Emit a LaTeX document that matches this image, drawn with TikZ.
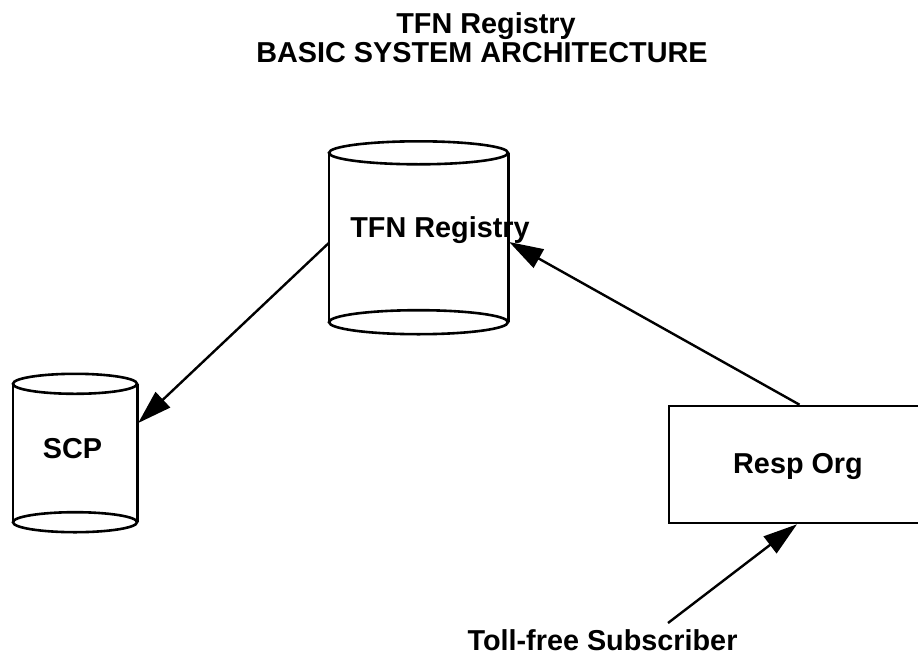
\documentclass[tikz,border=0pt]{standalone}
\usepackage{fontspec}
\setmainfont{Liberation Sans}
\usetikzlibrary{arrows.meta}
\begin{document}
\begin{tikzpicture}[x=1pt,y=-1pt,
  lbl/.style={font=\bfseries\fontsize{28.8}{29}\selectfont, inner sep=0pt, anchor=base},
  holder/.style={draw=none, inner sep=0pt, rectangle},
  outl/.style={line width=2.6pt, line join=miter},
  arr/.style={line width=2.4pt, -{Triangle[length=34pt,width=21pt]}}
]
\useasboundingbox (0,0) rectangle (918,656);
\clip (0,0) rectangle (918,656);
% title
\node[lbl] (title1) at (486,33) {TFN Registry};
\node[lbl] (title2) at (482,62) {BASIC SYSTEM ARCHITECTURE};
% TFN Registry cylinder
\node[holder, minimum width=179pt, minimum height=169pt] (tfn) at (418.5,237.5) {};
\draw[outl] (tfn.north west) -- (tfn.south west);
\draw[outl] (tfn.north east) -- (tfn.south east);
\draw[outl, fill=white] (tfn.north) ellipse [x radius=89.5pt, y radius=11.5pt];
\draw[outl, fill=white] (tfn.south) ellipse [x radius=89.5pt, y radius=12pt];
\node[lbl] (tfnlabel) at (440,237) {TFN Registry};
% SCP cylinder
\node[holder, minimum width=124pt, minimum height=138pt] (scp) at (75,453) {};
\draw[outl] (scp.north west) -- (scp.south west);
\draw[outl] (scp.north east) -- (scp.south east);
\draw[outl, fill=white] (scp.north) ellipse [x radius=62pt, y radius=10pt];
\draw[outl, fill=white] (scp.south) ellipse [x radius=62pt, y radius=10pt];
\node[lbl] (scplabel) at (72.5,458) {SCP};
% Resp Org box
\node[holder, draw, outl, minimum width=261pt, minimum height=117pt] (resp) at (799.5,464.5) {};
\node[lbl] (resplabel) at (798,473) {Resp Org};
% subscriber
\node[lbl] (sub) at (602.5,650) {Toll-free Subscriber};
\coordinate (subline) at (668,623);
% connectors
\draw[arr] ([yshift=-5.5pt]tfn.west) -- ([xshift=1pt,yshift=30pt]scp.east);
\draw[arr] (resp.north) -- ([xshift=1pt,yshift=-4.5pt]tfn.east);
\draw[arr] (subline) -- ([xshift=-2.5pt]resp.south);
\end{tikzpicture}
\end{document}
